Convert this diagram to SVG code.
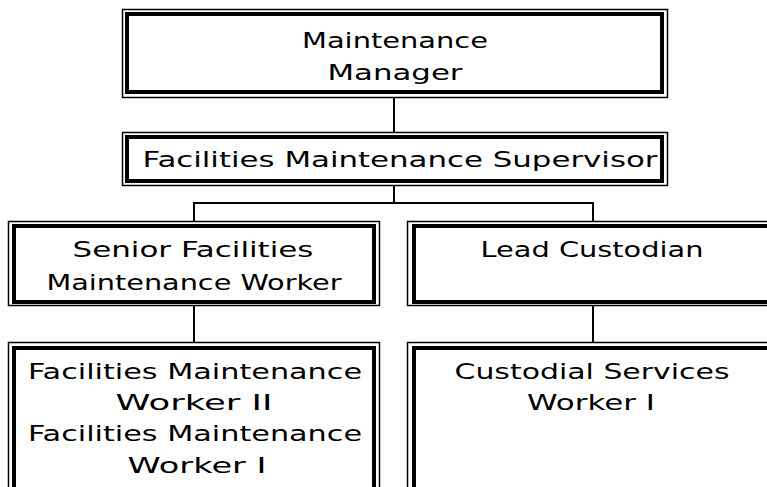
<svg xmlns="http://www.w3.org/2000/svg" width="767" height="487" viewBox="0 0 767 487">
<style>
.o{fill:none;stroke:#000;stroke-width:1.5}
.i{fill:none;stroke:#000;stroke-width:4}
.t{font-family:"DejaVu Sans",sans-serif;font-size:22px;fill:#000;text-anchor:middle}
.c{fill:none;stroke:#000;stroke-width:2}
</style>
<rect width="767" height="487" fill="#fff"/>
<g id="connectors">
<line class="c" x1="394" y1="97" x2="394" y2="132"/>
<line class="c" x1="394" y1="186" x2="394" y2="203"/>
<line class="c" x1="193" y1="203" x2="594" y2="203"/>
<line class="c" x1="194" y1="203" x2="194" y2="221"/>
<line class="c" x1="593" y1="203" x2="593" y2="221"/>
<line class="c" x1="194" y1="306" x2="194" y2="342"/>
<line class="c" x1="593" y1="306" x2="593" y2="342"/>
</g>
<g id="manager">
<rect class="o" x="122.5" y="9.5" width="545" height="88"/>
<rect class="i" x="127" y="14" width="535" height="78"/>
<text class="t" x="395" y="48" textLength="186" lengthAdjust="spacingAndGlyphs">Maintenance</text>
<text class="t" x="395" y="80" textLength="135" lengthAdjust="spacingAndGlyphs">Manager</text>
</g>
<g id="supervisor">
<rect class="o" x="122.5" y="132.5" width="545" height="53"/>
<rect class="i" x="127" y="137" width="535" height="44"/>
<text class="t" x="400" y="167" textLength="515" lengthAdjust="spacingAndGlyphs">Facilities Maintenance Supervisor</text>
</g>
<g id="senior">
<rect class="o" x="8.5" y="221.5" width="371" height="84"/>
<rect class="i" x="14" y="226" width="360" height="76"/>
<text class="t" x="193" y="257" textLength="241" lengthAdjust="spacingAndGlyphs">Senior Facilities</text>
<text class="t" x="194" y="290" textLength="295" lengthAdjust="spacingAndGlyphs">Maintenance Worker</text>
</g>
<g id="lead">
<rect class="o" x="407.5" y="221.5" width="400" height="84"/>
<rect class="i" x="414" y="226" width="390" height="76"/>
<text class="t" x="592" y="257" textLength="223" lengthAdjust="spacingAndGlyphs">Lead Custodian</text>
</g>
<g id="workers">
<rect class="o" x="8.5" y="342.5" width="371" height="200"/>
<rect class="i" x="14" y="348" width="360" height="190"/>
<text class="t" x="195" y="379" textLength="334" lengthAdjust="spacingAndGlyphs">Facilities Maintenance</text>
<text class="t" x="194" y="410" textLength="157" lengthAdjust="spacingAndGlyphs">Worker II</text>
<text class="t" x="195" y="441" textLength="334" lengthAdjust="spacingAndGlyphs">Facilities Maintenance</text>
<text class="t" x="197" y="473" textLength="139" lengthAdjust="spacingAndGlyphs">Worker I</text>
</g>
<g id="custodial">
<rect class="o" x="407.5" y="342.5" width="400" height="200"/>
<rect class="i" x="414" y="348" width="390" height="190"/>
<text class="t" x="592" y="379" textLength="275" lengthAdjust="spacingAndGlyphs">Custodial Services</text>
<text class="t" x="591" y="410" textLength="128" lengthAdjust="spacingAndGlyphs">Worker I</text>
</g>
</svg>
